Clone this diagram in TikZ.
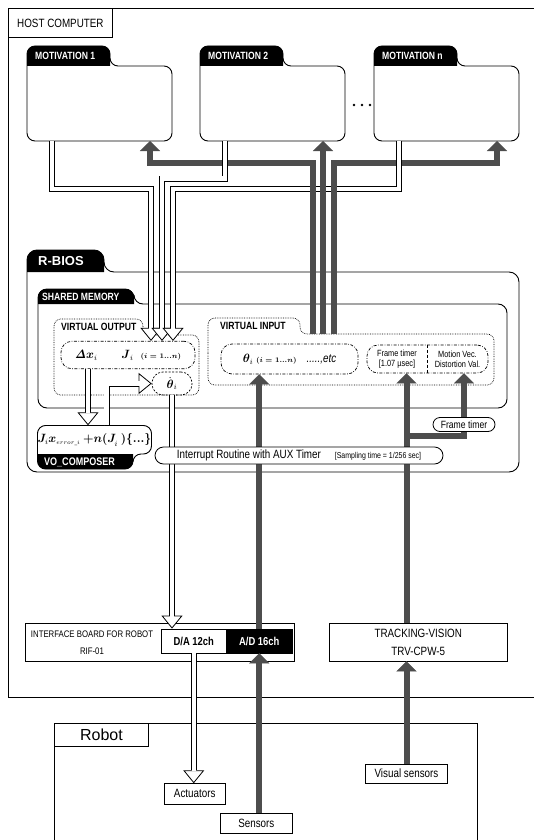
\documentclass[tikz,border=0pt]{standalone}
\usepackage[no-math]{fontspec}
\setmainfont{Liberation Sans}[FakeStretch=0.82]
\newfontfamily\widefont{Liberation Sans}
\usepackage{amsmath}
\usetikzlibrary{arrows.meta}
\definecolor{pipegray}{HTML}{4D4D4D}
\pgfdeclarelayer{front}
\pgfsetlayers{main,front}
\newcommand{\fsz}[1]{\fontsize{#1}{#1}\selectfont}

\begin{document}
\begin{tikzpicture}[x=1pt, y=-1pt,
    frame/.style={line width=0.9pt},
    vframe/.style={line width=0.7pt, densely dotted, rounded corners=7pt},
    tab/.style={anchor=west, inner sep=0pt, text=white, font=\bfseries\fsz{10.5}},
    vtab/.style={anchor=west, inner sep=0pt, font=\bfseries\fsz{10.5}},
    dashdot/.style={draw, line width=0.7pt, dash pattern=on 3pt off 1.5pt on 0.7pt off 1.5pt, rounded corners=11pt, inner sep=0pt},
    pill/.style={draw, fill=white, line width=0.8pt, inner sep=0pt},
    box/.style={draw, line width=0.8pt, inner sep=0pt, font=\fsz{12}},
    whitepipe/.style={line width=6pt, -{Triangle[length=13pt, width=21pt, line width=0.8pt, fill=white]},
        postaction={draw=white, line width=4.4pt, -, shorten >=12pt}},
    graypipe/.style={draw=pipegray, line width=6pt, -{Triangle[length=10pt, width=20pt, line width=0.1pt]}}]

\useasboundingbox (0,0) rectangle (534,840);

% host computer
\draw[frame] (540,8) -- (8,8) -- (8,697) -- (540,697);
\node[box, anchor=north west, minimum width=104pt, minimum height=29pt, font=\fsz{12}] (host) at (8,8) {HOST COMPUTER};

% motivations
\foreach \x/\n in {27/1,200/2,374/n}
{
    \draw[frame, rounded corners=8pt] (\x,100) -- (\x,46) -- (\x+83,46) -- (\x+83,66) -- (\x+145,66) -- (\x+145,141) -- (\x,141) -- cycle;
    \fill[rounded corners=8pt] (\x,66) -- (\x,46) -- (\x+83,46) -- (\x+83,66);
    \node[tab] (mottab\n) at (\x+8,56) {MOTIVATION \n};
    \coordinate (mot\n) at (\x,141);
}
\foreach \x in {354,362,370}
    \fill (\x,105) circle (1.4pt);

% R-BIOS
\draw[frame, rounded corners=10pt] (27,350) -- (27,250) -- (104,250) -- (104,272) -- (519,272) -- (519,472) -- (27,472) -- cycle;
\fill[rounded corners=10pt] (27,272) -- (27,250) -- (104,250) -- (104,272);
\node[tab, font=\widefont\bfseries\fsz{13}] (rbios) at (38,261) {R-BIOS};

% shared memory
\draw[frame, rounded corners=9pt] (38,350) -- (38,289) -- (134,289) -- (134,304) -- (507,304) -- (507,408) -- (38,408) -- cycle;
\fill[rounded corners=8pt] (38,304) -- (38,289) -- (134,289) -- (134,304);
\node[tab] (shm) at (42,296.5) {SHARED MEMORY};

% virtual output / input
\draw[vframe] (54,360) -- (54,319) -- (143,319) -- (143,335) -- (199,335) -- (199,395) -- (54,395) -- cycle;
\node[vtab] (vout) at (61,327) {VIRTUAL OUTPUT};
\draw[vframe] (208,360) -- (208,318) -- (300,318) -- (300,334) -- (494,334) -- (494,385) -- (208,385) -- cycle;
\node[vtab] (vin) at (220,326) {VIRTUAL INPUT};
\coordinate (vitop) at (323,334);

\node[dashdot, minimum width=134pt, minimum height=27.5pt, font=\fsz{12}] (dx) at (128,355)
    {$\boldsymbol{\mathit{\Delta}x}_i$\hspace{24pt}$\boldsymbol{J}_i$\hspace{7pt}{\scriptsize$\boldsymbol{(i=1...n)}$}};
\node[dashdot, dash pattern=on 2pt off 1.5pt, minimum width=40pt, minimum height=23pt, font=\fsz{12}] (thd) at (172,383.5)
    {$\dot{\boldsymbol{\theta}}_i$};
\node[dashdot, minimum width=137pt, minimum height=30pt, font=\fsz{12}] (th) at (289.5,359)
    {$\boldsymbol{\theta}_i$ {\scriptsize$\boldsymbol{(i=1...n)}$}\hspace{10pt}\textit{.....,etc}};
\node[dashdot, minimum width=121pt, minimum height=28pt] (fr) at (427.5,359) {};
\draw[densely dashed, line width=0.6pt] (fr.north) -- (fr.south);
\node[align=center, inner sep=0pt, font=\fontsize{9}{10}\selectfont] (frl) at (397,359) {Frame timer\\{}[1.07 µsec]};
\node[align=center, inner sep=0pt, font=\fontsize{9}{10}\selectfont] (frr) at (457.5,359) {Motion Vec.\\Distortion Val.};

% VO composer
\draw[frame, rounded corners=8pt] (37.5,440) -- (37.5,469) -- (133,469) -- (133,454) -- (151.5,454) -- (151.5,425.5) -- (37.5,425.5) -- cycle;
\fill[rounded corners=8pt] (37.5,454) -- (37.5,469) -- (133,469) -- (133,454);
\node[tab, font=\bfseries\fsz{11}] (votab) at (44,462) {VO\_COMPOSER};
\node[inner sep=0pt, minimum width=114pt, minimum height=28.5pt, font=\fsz{11.5}] (vo) at (94.5,439.75)
    {$\boldsymbol{J}_{\!i}\boldsymbol{x}_{\scriptscriptstyle error\_i}\boldsymbol{+n(J}_{\!i}\boldsymbol{)\{...\}}$};

\begin{pgfonlayer}{front}
\node[pill, rounded corners=7pt, minimum width=62pt, minimum height=14pt, font=\fsz{10.5}] (ftm) at (464,424.5) {Frame timer};
\node[pill, rounded corners=8.5pt, minimum width=288pt, minimum height=17pt] (irq) at (299,455.5)
    {{\fsz{12}Interrupt Routine with AUX Timer}\hspace{14pt}{\fsz{8.5}[Sampling time = 1/256 sec]}\hspace{14pt}};
\end{pgfonlayer}

% boards
\node[box, minimum width=269.5pt, minimum height=38pt] (ifb) at (159.75,642) {};
\node[align=center, inner sep=0pt, font=\fontsize{9.5}{17}\selectfont] (ifbtext) at (92,643) {INTERFACE BOARD FOR ROBOT\\RIF-01};
\node[box, fill=white, minimum width=65.5pt, minimum height=24pt, font=\bfseries\fsz{11.5}] (da) at (193.75,641) {D/A 12ch};
\node[box, fill=black, text=white, minimum width=65.5pt, minimum height=24pt, font=\bfseries\fsz{11.5}] (ad) at (259.25,641) {A/D 16ch};
\node[box, minimum width=178.5pt, minimum height=38pt, align=center, font=\fontsize{12}{18}\selectfont] (tv) at (418.25,642) {TRACKING-VISION\\TRV-CPW-5};

% robot
\draw[frame] (54,845) -- (54,723) -- (477.5,723) -- (477.5,845);
\node[box, anchor=north west, minimum width=94pt, minimum height=23pt, font=\widefont\fsz{16}] (robot) at (54,723) {Robot};
\node[box, minimum width=61.5pt, minimum height=20.3pt] (act) at (194.75,793.8) {Actuators};
\node[box, minimum width=71.3pt, minimum height=20pt] (sen) at (256.3,823.6) {Sensors};
\node[box, minimum width=82.6pt, minimum height=19pt] (vis) at (406.5,773.5) {Visual sensors};

% gray connectors
\draw[graypipe] ([xshift=-10pt]vitop) -- ++(0,-171) -| ([xshift=123pt]mot1);
\draw[graypipe] (vitop) -- ([xshift=123pt]mot2);
\draw[graypipe] ([xshift=11pt]vitop) -- ++(0,-171) -| ([xshift=123pt]motn);
\draw[graypipe] (ad.north) -- (ad.north |- th.south);
\draw[graypipe] (ad.south |- sen.north) -- (ad.south);
\draw[graypipe] (vis.north) -- (vis.north |- tv.south);
\draw[graypipe] (vis.north |- tv.north) -- (vis.north |- fr.south);
\draw[graypipe] ([yshift=-4pt]ftm.south -| vis.north) -| (ftm.south |- fr.south);

% white connectors
\draw[whitepipe] ([xshift=25pt]mot1) -- ++(0,48) -| ([xshift=23pt]dx.north);
\draw[whitepipe] ([xshift=25pt]mot2) -- ++(0,37.5) -| ([xshift=34pt]dx.north);
\draw[whitepipe] ([xshift=25pt]motn) -- ++(0,48) -| ([xshift=45pt]dx.north);
\draw[whitepipe] ([xshift=-40pt]dx.south) -- ([xshift=-40pt]dx.south |- vo.north);
\draw[whitepipe] ([xshift=12pt]vo.north) |- (thd.west);
\draw[whitepipe] (thd.south) -- (thd.south |- da.north);
\draw[whitepipe] (da.south) -- (da.south |- act.north);

\foreach \x in {313,323,334}
    \draw[draw=pipegray, line width=6pt] (\x,182) -- (\x,196);

\end{tikzpicture}
\end{document}
